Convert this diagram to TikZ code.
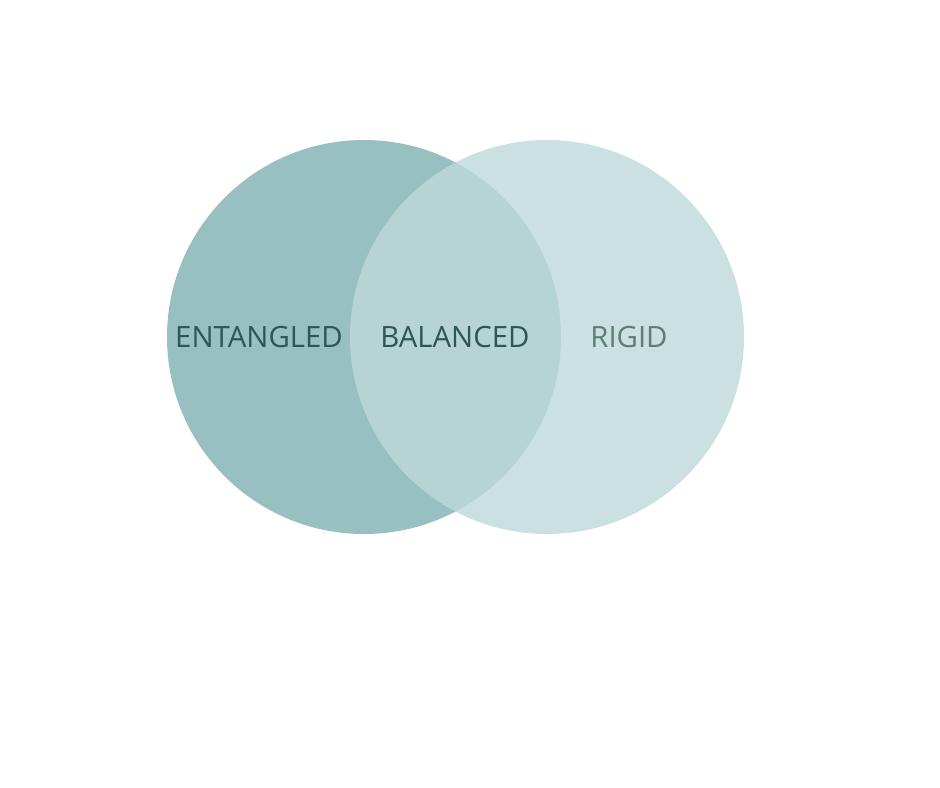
\documentclass[tikz,border=0pt]{standalone}
\usepackage{fontspec}
\setmainfont{Open Sans}
\definecolor{tealdark}{HTML}{99C0C1}
\definecolor{teallight}{HTML}{BED9DA}
\definecolor{textdark}{HTML}{2E5656}
\definecolor{textgrey}{HTML}{5E7D73}
\tikzset{
  label text/.style={font=\fontsize{22}{26}\selectfont, inner sep=0pt},
}
\begin{document}
\begin{tikzpicture}[x=0.75pt, y=-0.75pt]
\useasboundingbox (0,0) rectangle (940,788);
\fill[tealdark] (364,337) circle (197);
\fill[teallight, fill opacity=0.82] (547,337) circle (197);

\node (entangled) [label text, text=textdark] at (259,337) {ENTANGLED};
\node (balanced) [label text, text=textdark] at (455,337) {BALANCED};
\node (rigid) [label text, text=textgrey] at (629,337) {RIGID};
\end{tikzpicture}
\end{document}
